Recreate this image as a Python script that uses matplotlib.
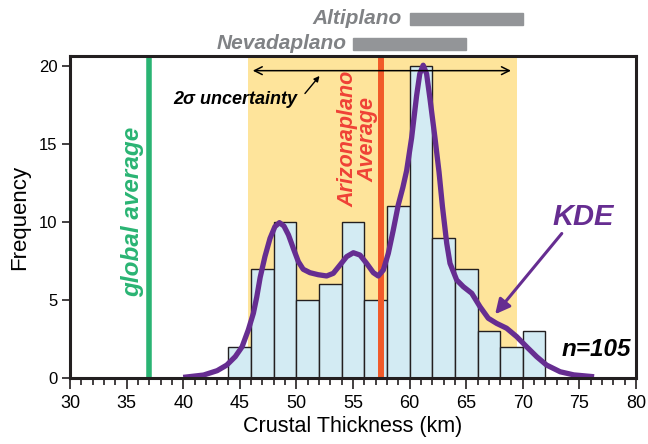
import numpy as np
import matplotlib.pyplot as plt
from matplotlib.ticker import MultipleLocator
import matplotlib.transforms as mtransforms

plt.rcParams['font.family'] = ['Liberation Sans', 'DejaVu Sans']

# histogram (2 km bins)
bin_edges = [44, 46, 48, 50, 52, 54, 56, 58, 60, 62, 64, 66, 68, 70, 72]
counts = [2, 7, 10, 5, 6, 10, 5, 11, 20, 9, 7, 3, 2, 3]

# KDE curve (scaled to frequency)
kde_x = [40.0, 41.8, 43.0, 43.85, 44.6, 45.2, 45.75, 46.2, 46.5, 46.8,
         47.22, 47.67, 48.1, 48.5, 48.9, 49.3, 49.73, 50.17, 50.6, 51.2,
         51.93, 52.67, 53.26, 53.85, 54.44, 55.03, 55.62, 56.2, 56.8, 57.23,
         57.68, 58.12, 58.56, 59.0, 59.4, 59.74, 60.18, 60.62, 60.9, 61.2,
         61.5, 61.8, 62.24, 62.6, 62.9, 63.28, 63.57, 64.16, 64.75, 65.49,
         66.22, 66.95, 67.69, 68.57, 69.46, 70.34, 71.22, 72.1, 73.3, 74.5, 76.3]
kde_y = [0.04, 0.19, 0.47, 0.83, 1.37, 2.0, 3.08, 4.15, 5.2, 6.45,
         7.78, 8.95, 9.7, 9.96, 9.74, 9.17, 8.31, 7.46, 6.97, 6.75,
         6.62, 6.54, 6.71, 7.24, 7.78, 8.03, 7.88, 7.35, 6.75, 6.54,
         6.92, 7.99, 9.49, 11.1, 12.2, 13.3, 15.4, 18.1, 19.5, 20.05,
         19.5, 17.9, 15.4, 13.2, 11.0, 8.63, 7.35, 6.28, 5.85, 5.43,
         4.57, 3.83, 3.5, 3.19, 2.65, 2.0, 1.37, 0.83, 0.4, 0.2, 0.08]

global_avg = 37.0
arizona_avg = 57.5
two_sigma = (45.7, 69.5)
altiplano = (60, 70)
nevadaplano = (55, 65)

fig = plt.figure(figsize=(6.48, 4.44), dpi=100)
ax = fig.add_axes([70/648, 66/444, 566/648, 322/444])

ax.axvspan(two_sigma[0], two_sigma[1], color='#FEE49B', lw=0, zorder=0)
ax.hist(bin_edges[:-1], bins=bin_edges, weights=counts, color='#D3EBF3',
        edgecolor='#231F20', linewidth=1.0, zorder=2)
ax.axvline(global_avg, color='#2AB473', lw=4, zorder=3)
ax.axvline(arizona_avg, color='#F15A29', lw=4.3, zorder=3)
ax.plot(kde_x, kde_y, color='#662D91', lw=3.8, solid_joinstyle='round',
        solid_capstyle='butt', zorder=4)

ax.set_xlim(30, 80)
ax.set_ylim(0, 20.64)
ax.xaxis.set_major_locator(MultipleLocator(5))
ax.xaxis.set_minor_locator(MultipleLocator(1))
ax.yaxis.set_major_locator(MultipleLocator(5))
ax.tick_params(axis='x', which='major', length=8, width=1.2, labelsize=13, pad=4, color='#231F20')
ax.tick_params(axis='x', which='minor', length=5, width=1.2, color='#231F20')
ax.tick_params(axis='y', which='major', length=6, width=1.2, labelsize=12, pad=3, color='#231F20')
for s in ax.spines.values():
    s.set_linewidth(2.2)
    s.set_color('#231F20')
    s.set_zorder(6)

ax.set_xlabel('Crustal Thickness (km)', fontsize=15.5, labelpad=3)
ax.set_ylabel('Frequency', fontsize=16, labelpad=6)

# 2 sigma arrow and annotation
ax.annotate('', xy=(two_sigma[0] + 0.2, 19.7), xytext=(two_sigma[1] - 0.3, 19.7),
            arrowprops=dict(arrowstyle='<->', color='black', lw=1.1, mutation_scale=14),
            zorder=5)
ax.text(44.6, 17.85, '2σ uncertainty', fontsize=13, fontweight='bold', style='italic',
        ha='center', va='center', zorder=5)
ax.annotate('', xy=(52.2, 19.5), xytext=(50.6, 18.1),
            arrowprops=dict(arrowstyle='-|>', color='black', lw=1.0, mutation_scale=8))

ax.text(35.55, 10.65, 'global average', rotation=90, fontsize=17.5, fontweight='bold',
        style='italic', color='#2AB473', ha='center', va='center')
ax.text(55.45, 15.3, 'Arizonaplano\nAverage', rotation=90, fontsize=15.5, fontweight='bold',
        style='italic', color='#EF4136', ha='center', va='center', linespacing=0.95, zorder=5)

ax.text(75.3, 10.3, 'KDE', fontsize=21, fontweight='bold', style='italic', color='#662D91',
        ha='center', va='center')
ax.annotate('', xy=(67.4, 3.95), xytext=(73.6, 9.4),
            arrowprops=dict(arrowstyle='-|>', color='#662D91', lw=2.2, mutation_scale=22))
ax.text(76.5, 1.8, 'n=105', fontsize=17.5, fontweight='bold', style='italic',
        ha='center', va='center')

# plateau ranges above the axes
trans = mtransforms.blended_transform_factory(ax.transData, ax.transAxes)
ax.add_patch(plt.Rectangle((altiplano[0], 1.095), altiplano[1] - altiplano[0], 0.039,
                           transform=trans, color='#939598', clip_on=False))
ax.add_patch(plt.Rectangle((nevadaplano[0], 1.019), nevadaplano[1] - nevadaplano[0], 0.036,
                           transform=trans, color='#939598', clip_on=False))
ax.text(59.3, 1.115, 'Altiplano', transform=trans, fontsize=15, fontweight='bold',
        style='italic', color='#808285', ha='right', va='center')
ax.text(54.45, 1.038, 'Nevadaplano', transform=trans, fontsize=15, fontweight='bold',
        style='italic', color='#808285', ha='right', va='center')

fig.savefig('out.png', dpi=100)
